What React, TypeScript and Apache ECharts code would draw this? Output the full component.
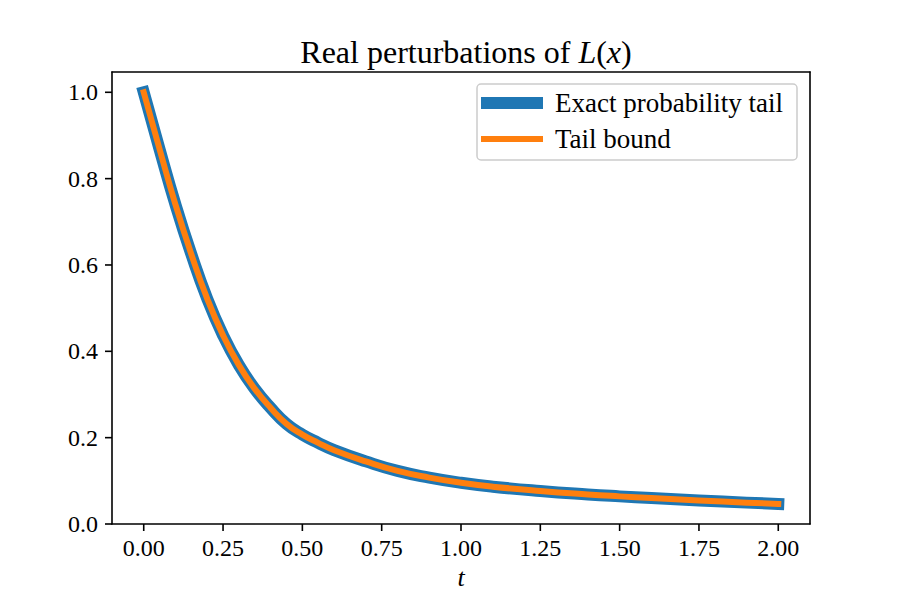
import React, { useEffect, useRef } from "react";
import * as echarts from "echarts";

const tValues = [0, 0.05, 0.1, 0.15, 0.2, 0.25, 0.3, 0.35, 0.4, 0.45, 0.5, 0.55, 0.6, 0.7, 0.8, 0.9, 1.0, 1.1, 1.25, 1.4, 1.5, 1.6, 1.75, 1.9, 2.0];
const exactTail = [1.0, 0.868, 0.74, 0.625, 0.522, 0.437, 0.368, 0.313, 0.269, 0.232, 0.207, 0.188, 0.171, 0.145, 0.123, 0.1075, 0.0955, 0.0865, 0.0765, 0.0685, 0.064, 0.06, 0.0545, 0.0495, 0.0465];
const tailBound = [1.0, 0.868, 0.74, 0.625, 0.522, 0.437, 0.368, 0.313, 0.269, 0.232, 0.207, 0.188, 0.171, 0.145, 0.123, 0.1075, 0.0955, 0.0865, 0.0765, 0.0685, 0.064, 0.06, 0.0545, 0.0495, 0.0465];
const xTicks = [0, 0.25, 0.5, 0.75, 1.0, 1.25, 1.5, 1.75, 2.0];
const yTicks = [0, 0.2, 0.4, 0.6, 0.8, 1.0];
const xRange = [-0.1, 2.1];
const yRange = [0, 1.047];
const seriesNames = ["Exact probability tail", "Tail bound"];

const FONT = "'Liberation Serif', 'DejaVu Serif', serif";
const GRID = { left: 112, top: 72, right: 90, bottom: 76 };
const W = 900;
const H = 600;

export default function App() {
  const ref = useRef<HTMLDivElement>(null);
  useEffect(() => {
    if (!ref.current) return;
    const chart = echarts.init(ref.current, undefined, { renderer: "svg" });
    const axisText = { color: "#000", fontFamily: FONT, fontSize: 24 };
    const axisLineStyle = { color: "#000", width: 1.6 };
    const spine = {
      type: "value",
      axisLine: { show: true, onZero: false, lineStyle: axisLineStyle },
      axisTick: { show: false },
      axisLabel: { show: false },
      splitLine: { show: false },
    };
    chart.setOption({
      animation: false,
      backgroundColor: "#fff",
      title: {
        text: "{a|Real perturbations of }{i|L}{a|(}{i|x}{a|)}",
        left: 461,
        top: 31,
        textAlign: "center",
        textStyle: {
          fontWeight: "normal",
          rich: {
            a: { fontFamily: FONT, fontSize: 32, fontWeight: "normal", color: "#000" },
            i: { fontFamily: FONT, fontSize: 32, fontWeight: "normal", fontStyle: "italic", color: "#000" },
          },
        },
      },
      grid: { ...GRID, show: false },
      legend: [
        {
          data: [seriesNames[0]],
          left: 481,
          top: 89,
          padding: 0,
          z: 20,
          icon: "rect",
          itemWidth: 62,
          itemHeight: 12,
          textStyle: { fontFamily: FONT, fontSize: 27, color: "#000", lineHeight: 28, padding: [0, 0, 0, 7] },
        },
        {
          data: [seriesNames[1]],
          left: 481,
          top: 125,
          padding: 0,
          z: 20,
          icon: "rect",
          itemWidth: 62,
          itemHeight: 6,
          textStyle: { fontFamily: FONT, fontSize: 27, color: "#000", lineHeight: 28, padding: [0, 0, 0, 7] },
        },
      ],
      xAxis: [
        {
          type: "value",
          position: "bottom",
          min: xRange[0],
          max: xRange[1],
          name: "t",
          nameLocation: "middle",
          nameGap: 40,
          nameTextStyle: { fontFamily: FONT, fontSize: 26, fontStyle: "italic", color: "#000" },
          axisLine: { show: true, onZero: false, lineStyle: axisLineStyle },
          splitLine: { show: false },
          axisTick: { show: false },
          axisLabel: {
            ...axisText,
            margin: 12,
            customValues: xTicks,
            formatter: (v: number) => v.toFixed(2),
          },
        },
        { ...spine, position: "top", min: xRange[0], max: xRange[1] },
      ],
      yAxis: [
        {
          type: "value",
          position: "left",
          min: yRange[0],
          max: yRange[1],
          axisLine: { show: true, onZero: false, lineStyle: axisLineStyle },
          splitLine: { show: false },
          axisTick: { show: false },
          axisLabel: {
            ...axisText,
            margin: 14,
            customValues: yTicks,
            formatter: (v: number) => v.toFixed(1),
          },
        },
        { ...spine, position: "right", min: yRange[0], max: yRange[1] },
      ],
      series: [
        {
          name: seriesNames[0],
          type: "line",
          data: tValues.map((t, i) => [t, exactTail[i]]),
          showSymbol: false,
          smooth: 0.5,
          color: "#1f77b4",
          lineStyle: { width: 12, color: "#1f77b4", cap: "square", join: "round" },
          z: 2,
        },
        {
          name: seriesNames[1],
          type: "line",
          data: tValues.map((t, i) => [t, tailBound[i]]),
          showSymbol: false,
          smooth: 0.5,
          color: "#ff7f0e",
          lineStyle: { width: 6, color: "#ff7f0e", cap: "square", join: "round" },
          z: 3,
        },
      ],
    });

    // tick marks as thin filled rects placed through the grid's data-to-pixel conversion
    const gw = W - GRID.left - GRID.right;
    const gh = H - GRID.top - GRID.bottom;
    const toPx = (x: number, y: number): [number, number] => {
      let p: any = null;
      try {
        p = chart.convertToPixel({ gridIndex: 0 }, [x, y]);
      } catch (e) {
        p = null;
      }
      if (p && Number.isFinite(p[0]) && Number.isFinite(p[1])) return [p[0], p[1]];
      return [
        GRID.left + ((x - xRange[0]) / (xRange[1] - xRange[0])) * gw,
        GRID.top + gh - ((y - yRange[0]) / (yRange[1] - yRange[0])) * gh,
      ];
    };
    const tickEls: any[] = [];
    xTicks.forEach((v) => {
      const [px, py] = toPx(v, yRange[0]);
      tickEls.push({
        type: "rect",
        z: 100,
        shape: { x: px - 0.8, y: py, width: 1.6, height: 7 },
        style: { fill: "#000" },
      });
    });
    yTicks.forEach((v) => {
      const [px, py] = toPx(xRange[0], v);
      tickEls.push({
        type: "rect",
        z: 100,
        shape: { x: px - 7, y: py - 0.8, width: 7, height: 1.6 },
        style: { fill: "#000" },
      });
    });
    chart.setOption({
      graphic: {
        elements: [
          {
            type: "rect",
            z: 10,
            shape: { x: 477, y: 84, width: 320, height: 76, r: 4 },
            style: { fill: "rgba(255,255,255,0.8)", stroke: "#cccccc", lineWidth: 1.5 },
          },
          ...tickEls,
        ],
      },
    });
    return () => chart.dispose();
  }, []);
  return <div ref={ref} style={{ width: W, height: H, margin: -8 }} />;
}
